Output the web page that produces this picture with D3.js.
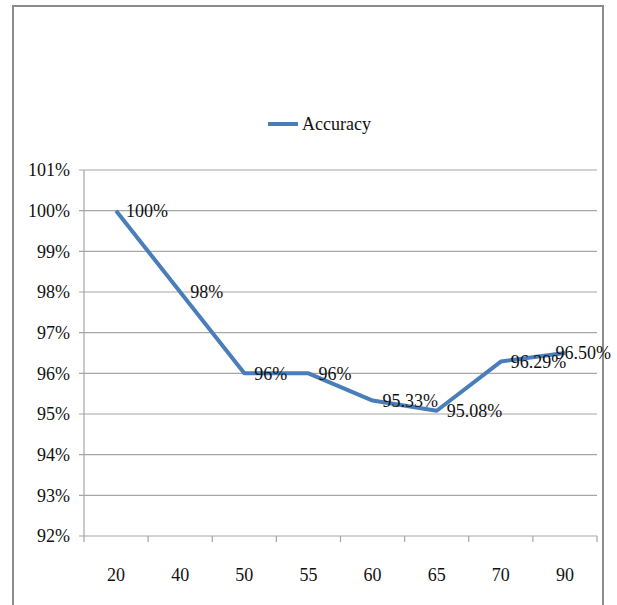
<!DOCTYPE html>
<html>
<head>
<meta charset="utf-8">
<script src="https://cdn.jsdelivr.net/npm/d3@7"></script>
<style>
  body { margin: 0; background: #fff; }
  text { font-family: "Liberation Serif", "Times New Roman", serif; }
</style>
</head>
<body>
<svg id="chart" width="617" height="605"></svg>
<script>
var categories = ["20", "40", "50", "55", "60", "65", "70", "90"];
var accuracy = [100, 98, 96, 96, 95.33, 95.08, 96.29, 96.50];
var labels = ["100%", "98%", "96%", "96%", "95.33%", "95.08%", "96.29%", "96.50%"];
var yTicks = [92, 93, 94, 95, 96, 97, 98, 99, 100, 101];

var svg = d3.select("#chart");
var serif = "'Liberation Serif', 'Times New Roman', serif";

// outer frame (bottom edge is cut off in the picture)
svg.append("path")
    .attr("d", "M13,605 V6 H603 V605")
    .attr("fill", "none")
    .attr("stroke", "#8c8c8c")
    .attr("stroke-width", 2);

var plotLeft = 84, plotRight = 597, plotTop = 170, plotBottom = 536;

var x = d3.scaleBand().domain(categories).range([plotLeft, plotRight]);
var y = d3.scaleLinear().domain([92, 101]).range([plotBottom, plotTop]);

// gridlines
svg.selectAll(".grid")
    .data(yTicks)
    .join("line")
    .attr("class", "grid")
    .attr("x1", plotLeft - 5)
    .attr("x2", plotRight)
    .attr("y1", d => y(d))
    .attr("y2", d => y(d))
    .attr("stroke", "#a6a6a6")
    .attr("stroke-width", 1.2);

// y axis line
svg.append("line")
    .attr("x1", plotLeft).attr("x2", plotLeft)
    .attr("y1", plotTop).attr("y2", plotBottom)
    .attr("stroke", "#a6a6a6")
    .attr("stroke-width", 1.2);

// y labels
svg.selectAll(".ylab")
    .data(yTicks)
    .join("text")
    .attr("class", "ylab")
    .attr("x", 70)
    .attr("y", d => y(d))
    .attr("dy", "0.35em")
    .attr("text-anchor", "end")
    .style("font-family", serif)
    .attr("font-size", 18)
    .attr("fill", "#111")
    .text(d => d + "%");

// x tick marks at band edges
var edges = categories.map(c => x(c)).concat([plotRight]);
svg.selectAll(".xtick")
    .data(edges)
    .join("line")
    .attr("class", "xtick")
    .attr("x1", d => d).attr("x2", d => d)
    .attr("y1", plotBottom).attr("y2", plotBottom + 6)
    .attr("stroke", "#a6a6a6")
    .attr("stroke-width", 1.2);

// x labels
svg.selectAll(".xlab")
    .data(categories)
    .join("text")
    .attr("class", "xlab")
    .attr("x", d => x(d) + x.bandwidth() / 2)
    .attr("y", 575)
    .attr("dy", "0.35em")
    .attr("text-anchor", "middle")
    .style("font-family", serif)
    .attr("font-size", 18)
    .attr("fill", "#111")
    .text(d => d);

// the line
var pts = categories.map((c, i) => [x(c) + x.bandwidth() / 2, y(accuracy[i])]);
svg.append("path")
    .datum(pts)
    .attr("d", d3.line())
    .attr("fill", "none")
    .attr("stroke", "#4a7ebb")
    .attr("stroke-width", 4)
    .attr("stroke-linejoin", "round");

// data labels, to the right of each point, kept inside the frame
svg.selectAll(".dlab")
    .data(pts)
    .join("text")
    .attr("class", "dlab")
    .attr("x", d => d[0] + 10)
    .attr("y", d => d[1])
    .attr("dy", "0.35em")
    .style("font-family", serif)
    .attr("font-size", 18)
    .attr("fill", "#111")
    .text((d, i) => labels[i])
    .each(function(d) {
        var w = this.getComputedTextLength();
        if (d[0] + 10 + w > 611) {
            d3.select(this).attr("x", 611 - w);
        }
    });

// legend
svg.append("line")
    .attr("x1", 268).attr("x2", 298)
    .attr("y1", 124).attr("y2", 124)
    .attr("stroke", "#4a7ebb")
    .attr("stroke-width", 4);
svg.append("text")
    .attr("x", 302)
    .attr("y", 124)
    .attr("dy", "0.35em")
    .style("font-family", serif)
    .attr("font-size", 18)
    .attr("fill", "#111")
    .text("Accuracy");
</script>
</body>
</html>
